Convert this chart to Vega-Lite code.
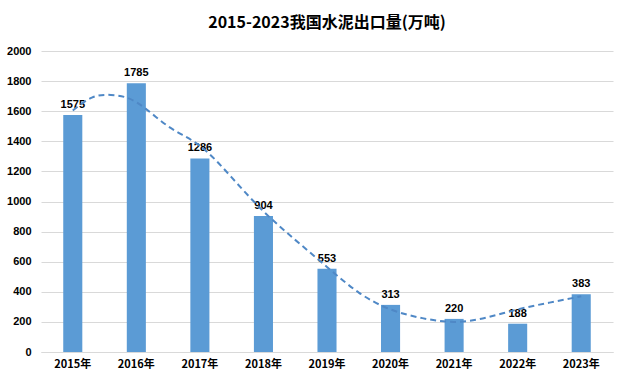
{
  "$schema": "https://vega.github.io/schema/vega-lite/v6.json",
  "width": 627,
  "height": 383,
  "autosize": {"type": "fit", "contains": "padding"},
  "padding": {"left": 6, "top": 15, "right": 14, "bottom": 14},
  "background": "#ffffff",
  "title": {
    "text": "2015-2023我国水泥出口量(万吨)",
    "font": "Noto Sans CJK SC",
    "fontSize": 16,
    "fontWeight": "bold",
    "color": "#000000",
    "anchor": "middle",
    "offset": 14
  },
  "datasets": {
    "bars": [
      {"year": "2015年", "value": 1575},
      {"year": "2016年", "value": 1785},
      {"year": "2017年", "value": 1286},
      {"year": "2018年", "value": 904},
      {"year": "2019年", "value": 553},
      {"year": "2020年", "value": 313},
      {"year": "2021年", "value": 220},
      {"year": "2022年", "value": 188},
      {"year": "2023年", "value": 383}
    ],
    "trend": [
      {"t": 2015.0, "value": 1605},
      {"t": 2015.3, "value": 1690},
      {"t": 2015.6, "value": 1708},
      {"t": 2016.0, "value": 1660},
      {"t": 2016.5, "value": 1500},
      {"t": 2017.0, "value": 1370},
      {"t": 2017.5, "value": 1160},
      {"t": 2018.0, "value": 935},
      {"t": 2018.5, "value": 745},
      {"t": 2019.0, "value": 565},
      {"t": 2019.5, "value": 395},
      {"t": 2020.0, "value": 283},
      {"t": 2020.5, "value": 225},
      {"t": 2021.0, "value": 200},
      {"t": 2021.5, "value": 228},
      {"t": 2022.0, "value": 283},
      {"t": 2022.5, "value": 328},
      {"t": 2023.0, "value": 370}
    ]
  },
  "encoding": {
    "y": {
      "field": "value",
      "type": "quantitative",
      "scale": {"domain": [0, 2000], "nice": false},
      "axis": {
        "title": null,
        "values": [0, 200, 400, 600, 800, 1000, 1200, 1400, 1600, 1800, 2000],
        "format": "d",
        "labelOverlap": false,
        "labelFont": "Liberation Sans",
        "labelFontSize": 11,
        "labelFontWeight": "bold",
        "labelColor": "#000000",
        "labelPadding": 10,
        "ticks": false,
        "domain": false,
        "grid": true,
        "gridColor": "#d9d9d9"
      }
    }
  },
  "layer": [
    {
      "data": {"name": "bars"},
      "encoding": {
        "x": {
          "field": "year",
          "type": "nominal",
          "sort": null,
          "scale": {"paddingInner": 0.7, "paddingOuter": 0.35},
          "axis": {
            "title": null,
            "labelAngle": 0,
            "labelFont": "Noto Sans CJK SC",
            "labelFontSize": 11,
            "labelFontWeight": "bold",
            "labelColor": "#000000",
            "labelPadding": 6,
            "ticks": false,
            "domainColor": "#d9d9d9",
            "grid": false
          }
        }
      },
      "layer": [
        {"mark": {"type": "bar", "color": "#5B9BD5"}},
        {
          "mark": {"type": "text", "dy": -10, "font": "Liberation Sans", "fontSize": 11, "fontWeight": "bold", "color": "#000000"},
          "encoding": {"text": {"field": "value", "type": "quantitative"}}
        }
      ]
    },
    {
      "data": {"name": "trend"},
      "mark": {"type": "line", "interpolate": "natural", "color": "#4F88C6", "strokeWidth": 2, "strokeDash": [6, 4]},
      "encoding": {
        "x": {"field": "t", "type": "quantitative", "scale": {"domain": [2014.5, 2023.5], "nice": false, "zero": false}, "axis": null}
      }
    }
  ],
  "resolve": {"scale": {"x": "independent"}},
  "config": {"view": {"stroke": null}}
}
